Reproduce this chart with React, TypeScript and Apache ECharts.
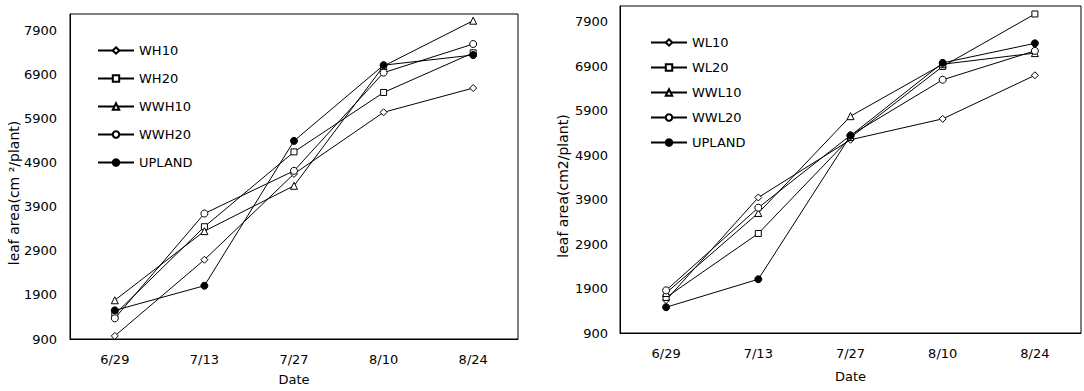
import React, { useEffect, useRef } from "react";
import * as echarts from "echarts";

const dates = ["6/29", "7/13", "7/27", "8/10", "8/24"];
const yTicks = [900, 1900, 2900, 3900, 4900, 5900, 6900, 7900];

// left panel
const wh10 = [970, 2700, 4650, 6050, 6600];
const wh20 = [1460, 3450, 5150, 6500, 7400];
const wwh10 = [1780, 3350, 4380, 7100, 8130];
const wwh20 = [1370, 3750, 4720, 6950, 7600];
const uplandH = [1550, 2110, 5400, 7120, 7350];

// right panel
const wl10 = [1640, 3950, 5250, 5720, 6700];
const wl20 = [1700, 3140, 5300, 6900, 8080];
const wwl10 = [1800, 3600, 5780, 6950, 7200];
const wwl20 = [1860, 3720, 5350, 6600, 7250];
const uplandL = [1480, 2110, 5340, 6980, 7420];

const FONT = "DejaVu Sans";

function mk(name: string, data: number[], symbol: string, filled: boolean, idx: number) {
  return {
    type: "line",
    name,
    data,
    xAxisIndex: idx,
    yAxisIndex: idx,
    symbol,
    symbolSize: symbol === "rect" ? 6 : 7,
    showSymbol: true,
    lineStyle: { color: "#000", width: 1 },
    itemStyle: { color: filled ? "#000" : "#fff", borderColor: "#000", borderWidth: 1 },
    z: filled ? 3 : 2,
  };
}

export default function App() {
  const ref = useRef<HTMLDivElement>(null);
  useEffect(() => {
    if (!ref.current) return;
    const chart = echarts.init(ref.current, undefined, { renderer: "svg" });
    const xAxisBase = (gridIndex: number, gap: number) => ({
      type: "category",
      gridIndex,
      data: dates,
      boundaryGap: true,
      name: "Date",
      nameLocation: "middle",
      nameGap: gap,
      nameTextStyle: { fontFamily: FONT, fontSize: 13, color: "#000" },
      axisLine: { lineStyle: { color: "#000", width: 1 } },
      axisTick: { show: false },
      axisLabel: { fontFamily: FONT, fontSize: 13, color: "#000", margin: 14 },
      splitLine: { show: false },
    });
    const yAxisBase = (gridIndex: number, max: number, margin: number) => ({
      type: "value",
      gridIndex,
      min: 900,
      max,
      axisLine: { show: true, lineStyle: { color: "#000", width: 1 } },
      axisTick: { show: false, customValues: yTicks },
      axisLabel: {
        fontFamily: FONT,
        fontSize: 13,
        color: "#000",
        margin,
        customValues: yTicks,
        formatter: (v: number) => String(v),
      },
      splitLine: { show: false },
    });
    const legendBase = (left: number, top: number, gap: number, data: string[]) => ({
      orient: "vertical",
      left,
      top,
      padding: 0,
      itemWidth: 36,
      itemHeight: 8,
      itemGap: gap,
      data,
      textStyle: { fontFamily: FONT, fontSize: 13, color: "#000" },
      selectedMode: false,
    });
    chart.setOption({
      animation: false,
      backgroundColor: "#fff",
      grid: [
        { left: 70, top: 14, width: 448, height: 328, show: true, borderColor: "#000", borderWidth: 1, backgroundColor: "transparent" },
        { left: 620, top: 6, width: 461, height: 327, show: true, borderColor: "#000", borderWidth: 1, backgroundColor: "transparent" },
      ],
      xAxis: [xAxisBase(0, 34), xAxisBase(1, 37)],
      yAxis: [yAxisBase(0, 8282, 13), yAxisBase(1, 8260, 12)],
      legend: [
        legendBase(97, 44, 15, ["WH10", "WH20", "WWH10", "WWH20", "UPLAND"]),
        legendBase(650, 36, 12, ["WL10", "WL20", "WWL10", "WWL20", "UPLAND"]),
      ],
      graphic: [
        {
          type: "text",
          x: 14,
          y: 193,
          rotation: Math.PI / 2,
          style: { text: "leaf area(cm ²/plant)", fontFamily: FONT, fontSize: 14, fill: "#000", align: "center", verticalAlign: "middle" },
        },
        {
          type: "text",
          x: 563,
          y: 186,
          rotation: Math.PI / 2,
          style: { text: "leaf area(cm2/plant)", fontFamily: FONT, fontSize: 14, fill: "#000", align: "center", verticalAlign: "middle" },
        },
      ],
      series: [
        mk("WH10", wh10, "diamond", false, 0),
        mk("WH20", wh20, "rect", false, 0),
        mk("WWH10", wwh10, "triangle", false, 0),
        mk("WWH20", wwh20, "circle", false, 0),
        mk("UPLAND", uplandH, "circle", true, 0),
        mk("WL10", wl10, "diamond", false, 1),
        mk("WL20", wl20, "rect", false, 1),
        mk("WWL10", wwl10, "triangle", false, 1),
        mk("WWL20", wwl20, "circle", false, 1),
        mk("UPLAND", uplandL, "circle", true, 1),
      ],
    });
    return () => chart.dispose();
  }, []);
  return (
    <div
      ref={ref}
      style={{ position: "absolute", left: 0, top: 0, width: 1084, height: 391, background: "#fff" }}
    />
  );
}
